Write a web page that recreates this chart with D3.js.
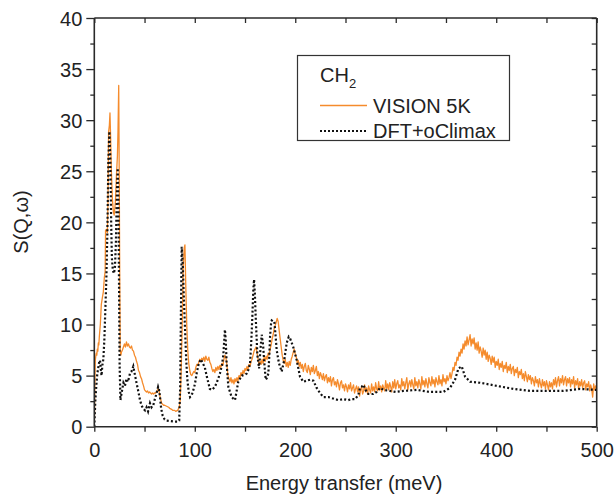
<!DOCTYPE html>
<html><head><meta charset="utf-8">
<script src="https://cdn.jsdelivr.net/npm/d3@7/dist/d3.min.js"></script>
<style>
html,body{margin:0;padding:0;background:#fff;}
text{font-family:"Liberation Sans",Arial,sans-serif;fill:#222;}
</style></head>
<body>
<svg id="chart" width="614" height="496"></svg>
<script>
// ---- data ----
const xTicks = [0, 100, 200, 300, 400, 500];
const yTicks = [0, 5, 10, 15, 20, 25, 30, 35, 40];
const seriesNames = ["VISION 5K", "DFT+oClimax"];
const sampleLabel = "CH";
const sampleSub = "2";

// VISION 5K measured spectrum [energy (meV), S(Q,w)], low-energy part
const visionLow = [
 [0,0],[0.5,3.5],[1,6.5],[1.5,6.9],[2,7.2],[2.5,7.0],[3,7.6],[3.5,7.4],[4,8.2],[4.5,8.0],[5,8.8],[5.5,9.4],[6,10.0],[6.5,11.0],[7,12.0],[7.5,12.3],[8,12.6],[8.5,12.9],[9,13.2],[9.5,13.9],[10,14.6],[10.8,15.2],[11.2,19.2],[12,19.3],[13,19.0],[13.6,22],[14.2,28.8],[15,29.5],[15.6,30.7],[16.2,28.5],[17,25.0],[18,22.3],[19,21.0],[19.8,20.7],[21,22.0],[22,24.5],[23,26.5],[23.6,29],[24.3,33.4],[24.8,25],[25.3,15],[25.8,7.4],
 [26.5,7.0],[27,7.3],[28,7.5],[29,7.8],[30,8.1],[31,7.8],[32,8.3],[33,7.9],[34,8.1],[35,7.8],[36,7.7],[37,7.9],[38,7.5],[39,7.4],[40,7.0],[41,6.8],[42,6.4],[43,6.1],[44,5.5],[45,5.3],[46,4.9],[47,4.7],[48,4.3],[49,4.0],[50,3.6],[51,3.5],[52,3.4],[53,3.5],[54,3.3],[55,3.4],[56,3.3],[57,3.2],[58,3.3],[59,3.2],[60,3.3],[61,3.3],[62,3.4],[63.5,3.7],[64.5,3.5],[65.3,3.0],[66,2.7],[67,2.3],[68,2.2],[69,2.1],[70,2.1],[72,2.0],[74,1.9],[75,1.8],[77,1.7],[78,1.6],[80,1.6],[81,1.5],[83,1.6],[84.5,1.9],[85.5,2.6],[86.5,5.5],[87.5,10],[88.5,15.5],[89.5,17.5],[90.2,17.8],[91,14],[92,10],[93,7.5],[94,6.2],[95,5.5],[96,5.1],[97,5.0],[98,5.2],[99,5.4],[100,5.3],
 [101,5.8],[102,6.1],[103,6.0],[104,6.3],[105,6.6],[106,6.4],[107,6.7],[108,6.5],[109,6.8],[110,6.4],[111,6.9],[112,6.6],[113,6.5],[114,6.8],[115,6.3],[116,6.1],[117,5.7],[118,5.4],[119,5.6],[120,5.3],[121,5.8],[122,5.5],[123,5.9],[124,5.6],[125,6.0],[126,5.8],[127,6.2],[128,6.0],[129,6.6],[130,7.0],[131,6.8],[132,6.0],[133,5.0],[134,4.7],[135,4.4],[136,4.8],[137,4.3],[138,4.6],[139,4.2],[140,4.7],[141,4.4],[142,4.8],[143,4.5],[144,5.0],[145,4.8],[146,5.3],[147,5.0],[148,5.5],[149,5.2],[150,5.7],[151,5.5],[152,5.9],[153,5.6],[154,6.1],[155,5.9],[156,6.4],[157,6.6],[158,7.0],[159,7.4],[160,7.6],[161,7.8],[162,7.2],[163,6.6],[164,6.0],[165,6.4],[166,6.1],[167,6.6],[168,6.2],[169,6.8],[170,6.4],[171,6.9],[172,6.6],[173,7.2],[174,7.0],[175,7.6],[176,8.0],[177,8.6],[178,9.0],[179,9.6],[180,9.9],[181,10.2],[182,10.6],[183,10.3],[184,9.4],[185,8.6],[186,7.8],[187,7.0],[188,6.5],[189,6.2],[190,6.6],[191,5.9],[192,6.3],[193,5.8],[194,6.4],[195,6.0],[196,6.6],[197,6.9],[198,7.3],[199,7.6],[200,7.1],[201,6.8],[202,6.2],[203,6.5],[204,5.9]
];
// VISION 5K high-energy part: energies 205..500 meV in 1 meV steps
const visionHighStart = 205;
const visionHigh = [
 6.3,5.7,6.1,5.4,5.9,6.2,5.5,5.3,6.0,5.6,
 5.1,5.8,5.4,6.0,5.2,5.5,5.9,5.0,5.4,4.7,
 5.3,5.0,4.6,5.2,4.5,4.9,5.1,4.3,4.8,4.4,
 4.9,4.0,4.6,4.8,4.1,4.4,3.9,4.6,4.2,3.6,
 4.3,4.5,3.8,4.1,3.5,4.2,3.9,3.4,4.1,3.7,
 4.3,3.5,3.8,4.1,3.3,3.7,4.0,3.4,3.9,3.0,
 3.6,3.9,3.2,3.5,4.1,3.4,3.8,3.2,4.0,3.6,
 3.3,4.2,3.5,3.9,3.4,4.3,3.7,3.5,4.4,3.6,
 4.0,3.4,4.1,3.8,3.5,4.5,3.7,4.2,3.6,4.3,
 3.9,3.4,4.4,3.8,4.6,3.7,4.2,4.5,3.8,4.1,
 3.6,4.7,4.0,4.4,3.7,4.3,4.8,3.6,4.2,4.5,
 3.9,4.6,4.1,3.7,4.8,4.0,4.4,3.8,4.6,4.2,
 3.7,4.9,4.1,4.5,3.9,4.7,4.2,3.8,4.8,4.3,
 4.0,4.9,4.2,4.6,3.9,4.8,4.4,4.1,5.0,4.2,
 4.6,4.0,5.1,4.4,4.7,4.2,5.0,4.5,4.8,5.3,
 4.7,5.2,5.8,5.5,6.3,6.0,6.8,6.5,7.3,6.9,
 7.6,7.2,8.1,7.6,8.4,7.9,8.8,8.0,8.5,9.0,
 7.9,8.6,8.1,8.7,7.6,8.2,7.5,8.3,7.2,7.8,
 7.4,6.8,7.7,7.0,7.5,6.6,7.3,6.4,7.0,6.7,
 6.1,6.9,6.3,6.8,5.8,6.4,6.0,6.6,5.6,6.2,
 5.8,6.4,5.4,6.0,5.7,6.3,5.3,5.9,5.5,6.1,
 5.2,5.7,5.9,5.0,5.6,5.3,5.8,4.8,5.4,5.1,
 5.6,4.7,5.2,4.5,5.4,4.9,4.4,5.1,4.6,5.0,
 4.2,4.8,4.5,4.0,4.9,4.3,4.6,3.9,4.7,4.2,
 3.8,4.6,4.0,4.4,3.7,4.5,4.1,3.6,4.4,3.9,
 4.3,3.7,4.6,4.1,4.8,3.9,4.5,4.9,4.0,4.7,
 4.3,5.0,4.1,4.6,4.9,4.0,4.7,4.3,4.8,3.9,
 4.6,4.2,4.9,3.8,4.5,4.1,4.7,3.7,4.4,4.0,
 4.6,3.8,4.3,4.5,3.6,4.2,3.9,4.4,3.5,4.1,
 3.7,2.9,4.2,3.6,4.0,3.7
];

// DFT+oClimax calculated spectrum [energy (meV), S(Q,w)]
const dftPoints = [
 [0,0],[1,2.5],[2,4.0],[3,5.2],[4,5.8],[5,6.4],[5.7,6.5],[6.5,5.6],[7.2,5.0],[8,6.0],[9,6.6],[10,8.5],[11,11.5],[12,14.5],[13,19],[14,26],[15,28.9],[16,26],[16.8,20],[17.5,16.5],[18.5,15.3],[19.5,15.0],[20.5,15.5],[21.5,18],[22.5,23],[23.3,25.3],[24,22],[24.6,14],[25.2,6],[26,2.6],[27,3.2],[29,4.3],[30.5,4.0],[32,4.7],[33.5,4.4],[35.5,5.2],[37,5.4],[38.8,5.9],[40,5.3],[41,4.8],[42,4.3],[43.5,3.6],[45.5,2.6],[47,2.1],[48.5,1.8],[50.5,1.6],[52,1.9],[53.5,1.5],[55.4,2.3],[57,1.9],[58.7,2.1],[60,2.6],[61.5,3.1],[63.5,3.9],[64.5,3.6],[65.5,2.8],[66.5,1.8],[68,1.1],[70,0.7],[72,0.6],[76,0.55],[80,0.5],[83,0.5],[84.5,0.6],[85.5,4],[86.3,12],[87,17.6],[88,16],[89,13],[90.3,9.5],[91.5,6.5],[92.6,4.6],[94,3.4],[95.3,2.9],[97,3.1],[98.6,3.6],[100.2,4.2],[102,5.3],[104,6.2],[106,6.6],[108,6.2],[110,5.8],[112,4.9],[115,3.7],[117,3.6],[120,3.9],[123,4.6],[125,5.2],[127,6.0],[128.4,7.0],[129.3,8.4],[130,9.5],[130.8,8.5],[131.7,6.2],[133.4,3.9],[136.7,2.9],[140,2.6],[143.3,4.4],[146.7,5.0],[150,5.1],[151.7,5.2],[153.5,5.6],[155,6.2],[156.3,8.5],[157.3,10.8],[158.3,13.5],[159,14.4],[159.8,13],[160.6,10.8],[162.3,7.0],[164,5.7],[165.3,7.5],[166.6,9.0],[168,8.0],[169,6.5],[170.6,4.6],[172,4.8],[173.2,5.2],[174.2,7],[174.9,8.8],[176,10.2],[176.6,10.4],[178,10.3],[179.2,10.3],[180.5,8.8],[181.5,7.5],[183.8,6.2],[186.5,5.4],[189,6.5],[191.5,8.2],[193.5,8.8],[195,8.6],[198,7.8],[201.5,6.5],[204.7,4.9],[208,4.4],[211,4.5],[214.7,4.6],[218,4.5],[221.3,3.8],[224.6,3.3],[228,2.9],[233,2.9],[239.6,2.7],[243,2.6],[247.8,2.7],[252.8,2.6],[256,2.7],[259.5,2.7],[262.8,3.1],[264.4,3.8],[266,3.9],[267.8,4.1],[270,3.6],[272.7,3.2],[277.7,3.2],[281,3.4],[284.4,3.8],[288,3.6],[294,3.5],[300,3.4],[307.6,3.5],[321,3.6],[334,3.4],[347.4,3.4],[354,3.8],[359,4.6],[362.4,5.7],[365.7,5.9],[369,4.9],[374,4.4],[384,4.3],[400.5,4.0],[417,3.7],[433.7,3.5],[450.3,3.5],[466.8,3.5],[483.4,3.7],[500,3.6]
];

// ---- drawing ----
const visionPoints = visionLow.concat(visionHigh.map((s, i) => [visionHighStart + i, s]));
const svg = d3.select("#chart");
const L = 94.3, R = 596.7, T = 18, B = 426.7;
const x = d3.scaleLinear().domain([0, 500]).range([L, R]);
const y = d3.scaleLinear().domain([0, 40]).range([B, T]);
const axisColor = "#2a2a2a";
const orange = "#f58b2c";

svg.append("defs").append("clipPath").attr("id", "clip")
  .append("rect").attr("x", L).attr("y", T).attr("width", R - L).attr("height", B - T);

const line = d3.line().x(d => x(d[0])).y(d => y(d[1]));

const plot = svg.append("g").attr("clip-path", "url(#clip)");
plot.append("path").datum(visionPoints)
  .attr("d", line).attr("fill", "none")
  .attr("stroke", orange).attr("stroke-width", 1.3).attr("stroke-linejoin", "round");
plot.append("path").datum(dftPoints)
  .attr("d", line).attr("fill", "none")
  .attr("stroke", "#111").attr("stroke-width", 2.2).attr("stroke-dasharray", "2,2.2");

// axes
const fontSize = "20px";
const axBottom = svg.append("g").attr("transform", `translate(0,${B})`)
  .call(d3.axisBottom(x).tickValues(d3.range(0, 501, 50)).tickSize(5).tickFormat(d => xTicks.includes(d) ? d : ""));
const axLeft = svg.append("g").attr("transform", `translate(${L},0)`)
  .call(d3.axisLeft(y).tickValues(yTicks).tickSize(8).tickFormat(d => d));
const axLeftMinor = svg.append("g").attr("transform", `translate(${L},0)`)
  .call(d3.axisLeft(y).tickValues(d3.range(2.5, 40, 5)).tickSize(4).tickFormat(""));
const axTop = svg.append("g").attr("transform", `translate(0,${T})`)
  .call(d3.axisBottom(x).tickValues(d3.range(0, 501, 50)).tickSize(5).tickFormat(""));
const axRight = svg.append("g").attr("transform", `translate(${R},0)`)
  .call(d3.axisLeft(y).tickValues(d3.range(0, 40.1, 2.5)).tickSize(5).tickFormat(""));

svg.selectAll(".domain").attr("stroke", axisColor).attr("stroke-width", 1.6);
svg.selectAll(".tick line").attr("stroke", axisColor).attr("stroke-width", 1.3);
svg.selectAll(".tick text").attr("font-size", fontSize)
  .attr("font-family", "Liberation Sans, Arial, sans-serif").attr("fill", "#222");
axBottom.selectAll(".tick text").attr("dy", null).attr("y", 30);
axLeft.selectAll(".tick text").attr("x", -12).attr("dy", "0.36em");
axTop.select(".domain").attr("d", `M${L},0H${R}`);
axRight.select(".domain").attr("d", `M0,${T}V${B}`);
axBottom.select(".domain").attr("d", `M${L},0H${R}`);
axLeft.select(".domain").attr("d", `M0,${T}V${B}`);
axLeftMinor.select(".domain").remove();

// axis titles
svg.append("text").attr("x", 344).attr("y", 490).attr("text-anchor", "middle")
  .attr("font-size", fontSize).text("Energy transfer (meV)");
svg.append("text").attr("transform", "translate(28,222) rotate(-90)")
  .attr("text-anchor", "middle").attr("font-size", fontSize).text("S(Q,\u03C9)");

// legend
const lg = svg.append("g");
lg.append("rect").attr("x", 297.5).attr("y", 55.5).attr("width", 212).attr("height", 85)
  .attr("fill", "#fff").attr("stroke", "#333").attr("stroke-width", 1.2);
const ch = lg.append("text").attr("x", 320).attr("y", 82).attr("font-size", fontSize);
ch.append("tspan").text(sampleLabel);
ch.append("tspan").attr("font-size", "13px").attr("dy", 6).text(sampleSub);
lg.append("line").attr("x1", 320).attr("x2", 367).attr("y1", 105.5).attr("y2", 105.5)
  .attr("stroke", orange).attr("stroke-width", 1.4);
lg.append("text").attr("x", 373).attr("y", 113).attr("font-size", fontSize).text(seriesNames[0]);
lg.append("line").attr("x1", 320).attr("x2", 366).attr("y1", 131).attr("y2", 131)
  .attr("stroke", "#111").attr("stroke-width", 2).attr("stroke-dasharray", "2,2");
lg.append("text").attr("x", 373).attr("y", 137.5).attr("font-size", fontSize).text(seriesNames[1]);
</script>
</body></html>
